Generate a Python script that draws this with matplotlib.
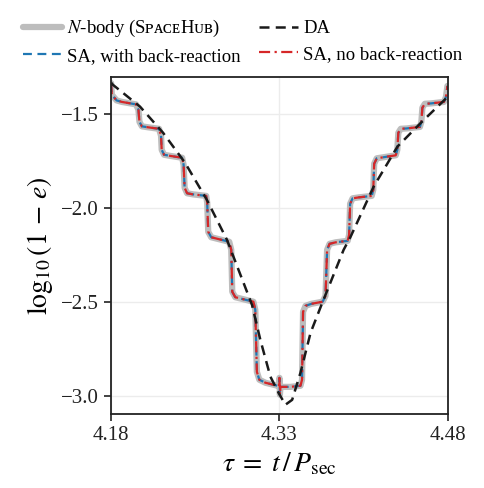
import matplotlib
matplotlib.use("Agg")
import matplotlib.pyplot as plt

plt.rcParams['font.family'] = ['Liberation Serif', 'DejaVu Serif']
plt.rcParams['mathtext.fontset'] = 'stix'

# N-body (SpaceHub) staircase
nbody_tau = [4.1805, 4.1811, 4.1854, 4.1901, 4.2026, 4.2048, 4.2057, 4.2079, 4.2133,
             4.2231, 4.2249, 4.2255, 4.2276, 4.2329, 4.2437, 4.2450, 4.2459, 4.2481,
             4.2535, 4.2651, 4.2660, 4.2669, 4.2696, 4.2749, 4.2856, 4.2874, 4.2883,
             4.2910, 4.2963, 4.3071, 4.3088, 4.3102, 4.3124, 4.3178, 4.3285, 4.3298,
             4.3303, 4.3307, 4.3312, 4.3401, 4.3490, 4.3504, 4.3513, 4.3535, 4.3588,
             4.3687, 4.3713, 4.3727, 4.3749, 4.3803, 4.3910, 4.3923, 4.3932, 4.3954,
             4.4008, 4.4124, 4.4138, 4.4146, 4.4169, 4.4222, 4.4338, 4.4352, 4.4361,
             4.4383, 4.4437, 4.4553, 4.4566, 4.4575, 4.4597, 4.4651, 4.4767, 4.4785,
             4.4798]
nbody_log = [-1.335, -1.397, -1.427, -1.435, -1.448, -1.477, -1.541, -1.565, -1.570,
             -1.578, -1.615, -1.690, -1.716, -1.722, -1.732, -1.770, -1.892, -1.921,
             -1.927, -1.935, -1.972, -2.126, -2.155, -2.163, -2.179, -2.222, -2.445,
             -2.474, -2.482, -2.498, -2.541, -2.871, -2.913, -2.929, -2.945, -2.948,
             -2.903, -2.993, -2.951, -2.951, -2.945, -2.913, -2.552, -2.520, -2.509,
             -2.498, -2.467, -2.222, -2.190, -2.182, -2.174, -2.142, -1.977, -1.948,
             -1.943, -1.935, -1.903, -1.764, -1.735, -1.730, -1.719, -1.690, -1.599,
             -1.578, -1.576, -1.568, -1.541, -1.466, -1.445, -1.443, -1.435, -1.408,
             -1.350]

# secular approximations overlap the N-body result
sa_br_tau, sa_br_log = nbody_tau, nbody_log
sa_nobr_tau, sa_nobr_log = nbody_tau, nbody_log

# double-averaged
da_tau = [4.1805, 4.1821, 4.2062, 4.2267, 4.2463, 4.2657, 4.2836, 4.3059, 4.3133,
          4.3222, 4.3296, 4.3356, 4.3416, 4.3490, 4.3580, 4.3684, 4.3874, 4.3937,
          4.4142, 4.4354, 4.4562, 4.4800]
da_log = [-1.333, -1.344, -1.460, -1.599, -1.759, -1.956, -2.169, -2.515, -2.701,
          -2.896, -2.984, -3.046, -3.020, -2.876, -2.663, -2.504, -2.222, -2.151,
          -1.885, -1.672, -1.546, -1.408]

xticks = [4.18, 4.33, 4.48]
yticks = [-1.5, -2.0, -2.5, -3.0]

fig = plt.figure(figsize=(4.85, 4.88), dpi=100)
ax = fig.add_axes([0.228, 0.151, 0.695, 0.691])

l_nb, = ax.plot(nbody_tau, nbody_log, color='#bdbdbd', lw=4.5, solid_capstyle='round',
                solid_joinstyle='round', label=r'$N$-body (SᴘᴀᴄᴇHᴜʙ)')
l_br, = ax.plot(sa_br_tau, sa_br_log, color='#1f77b4', lw=1.6, ls=(0, (4, 2.5)),
                label='SA, with back-reaction')
l_nobr, = ax.plot(sa_nobr_tau, sa_nobr_log, color='#d62728', lw=1.6,
                  ls=(0, (5, 2, 1, 2)), label='SA, no back-reaction')
l_da, = ax.plot(da_tau, da_log, color='#1a1a1a', lw=1.8, ls=(0, (4, 2.5)), label='DA')

ax.set_xlim(4.18, 4.48)
ax.set_ylim(-3.097, -1.303)
ax.set_xticks(xticks)
ax.set_xticklabels(['4.18', '4.33', '4.48'])
ax.set_yticks(yticks)
ax.set_yticklabels(['\u22121.5', '\u22122.0', '\u22122.5', '\u22123.0'])
ax.grid(True, color='#ececec', lw=1.0)
ax.set_axisbelow(True)
ax.tick_params(labelsize=15, direction='out', length=5, width=1.2, colors='#222222')
for s in ax.spines.values():
    s.set_linewidth(1.3)
    s.set_color('#222222')

ax.set_xlabel(r'$\tau\;=\;t\,/\,P_{\rm sec}$', fontsize=20, labelpad=4)
ax.set_ylabel(r'$\log_{10}(1\,-\,e)$', fontsize=20, labelpad=4)

fig.legend(handles=[l_nb, l_br, l_da, l_nobr], ncol=2, frameon=False, fontsize=13.5,
           loc='upper center', bbox_to_anchor=(0.5, 0.997), handlelength=2.1,
           handletextpad=0.25, columnspacing=1.0, labelspacing=0.45)

fig.savefig('out.png', dpi=100)
